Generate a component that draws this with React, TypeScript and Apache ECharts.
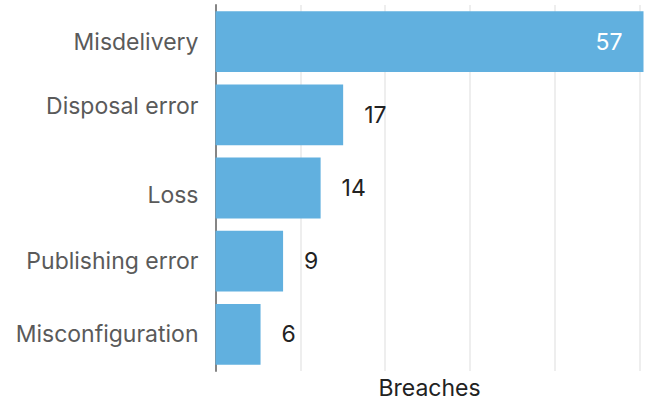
import React, { useEffect, useRef } from "react";
import * as echarts from "echarts";

const categories = ["Misdelivery", "Disposal error", "Loss", "Publishing error", "Misconfiguration"];
const breaches = [57, 17, 14, 9, 6];
const axisName = "Breaches";

const FONT = "Inter, 'Liberation Sans', sans-serif";
const FS = 23;

export default function App() {
  const ref = useRef<HTMLDivElement>(null);
  useEffect(() => {
    if (!ref.current) return;
    const chart = echarts.init(ref.current, undefined, { renderer: "svg" });
    const maxVal = Math.max(...breaches);
    const data = breaches.map((v) =>
      v === maxVal
        ? { value: v, label: { position: "insideRight", color: "#ffffff", distance: 21 } }
        : v
    );
    chart.setOption({
      animation: false,
      backgroundColor: "#ffffff",
      grid: { left: 215.5, right: 4.5, top: 5, bottom: 31, containLabel: false },
      xAxis: {
        type: "value",
        min: 0,
        max: 57,
        interval: 11.3,
        name: axisName,
        nameLocation: "middle",
        nameGap: 5,
        nameTextStyle: { fontFamily: FONT, fontSize: FS, color: "#222222" },
        axisLine: { show: false },
        axisTick: { show: false },
        axisLabel: { show: false },
        splitLine: { show: true, showMaxLine: false, showMinLine: false, lineStyle: { color: "#eeeeee", width: 2 } },
      },
      yAxis: {
        type: "category",
        inverse: true,
        data: categories,
        axisLine: { show: true, lineStyle: { color: "#858585", width: 2 } },
        axisTick: { show: false },
        axisLabel: {
          margin: 17,
          fontFamily: FONT,
          fontSize: FS,
          color: "#5a5a5a",
          formatter: (v: string) =>
            v === "Disposal error" ? `{up|${v}}` : v === "Loss" ? `{down|${v}}` : v,
          rich: {
            up: { fontFamily: FONT, fontSize: FS, color: "#5a5a5a", padding: [0, 0, 18, 0] },
            down: { fontFamily: FONT, fontSize: FS, color: "#5a5a5a", padding: [14, 0, 0, 0] },
          },
        },
        splitLine: { show: false },
      },
      series: [
        {
          type: "bar",
          data,
          barCategoryGap: "17%",
          itemStyle: { color: "#61b0df" },
          label: {
            show: true,
            position: "right",
            distance: 21,
            fontFamily: FONT,
            fontSize: FS,
            color: "#222222",
          },
        },
      ],
    });
    return () => chart.dispose();
  }, []);
  return (
    <div
      ref={ref}
      style={{ position: "fixed", left: 0, top: 0, width: 648, height: 404 }}
    />
  );
}
